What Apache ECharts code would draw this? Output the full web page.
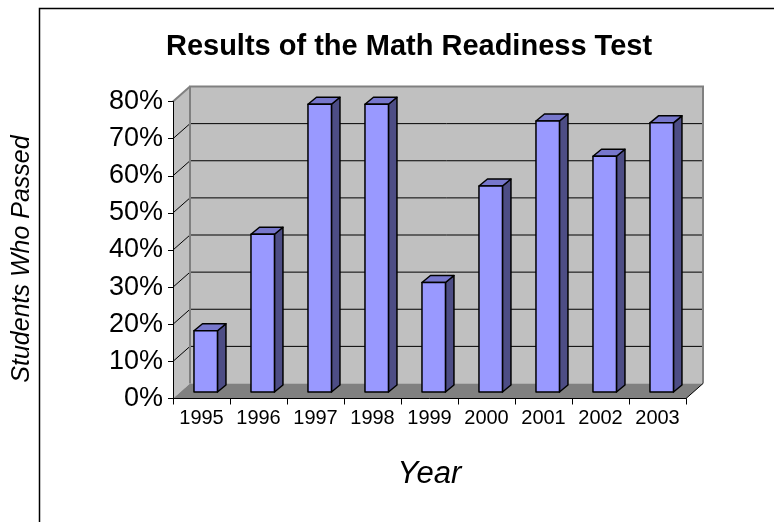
<!DOCTYPE html>
<html>
<head>
<meta charset="utf-8">
<script src="https://cdn.jsdelivr.net/npm/echarts@6/dist/echarts.min.js"></script>
<style>
html,body{margin:0;padding:0;background:#fff;}
#chart{width:774px;height:522px;}
</style>
</head>
<body>
<div id="chart"></div>
<script>
const years = ['1995','1996','1997','1998','1999','2000','2001','2002','2003'];
const passed = [0.165, 0.425, 0.775, 0.775, 0.295, 0.555, 0.73, 0.635, 0.725];
const yTicks = [0, 0.1, 0.2, 0.3, 0.4, 0.5, 0.6, 0.7, 0.8];
const titleText = 'Results of the Math Readiness Test';
const yName = 'Students Who Passed';
const xName = 'Year';

const FONT = '"Liberation Sans", Arial, sans-serif';
const yMax = yTicks[yTicks.length - 1];
const yStep = yTicks[1] - yTicks[0];
const DX = 17, DY = -15;

function renderWalls(params, api) {
  const n = years.length;
  const bw = api.size([1, 0])[0];
  const xl = api.coord([0, 0])[0] - bw / 2;
  const xr = api.coord([n - 1, 0])[0] + bw / 2;
  const yb = api.coord([0, 0])[1];
  const yt = api.coord([0, yMax])[1];
  const ch = [];
  ch.push({type:'polygon', shape:{points:[[xl,yt],[xl+DX,yt+DY],[xl+DX,yb+DY],[xl,yb]]},
    style:{fill:'#C0C0C0', stroke:null}});
  ch.push({type:'polygon', shape:{points:[[xl+DX,yt+DY],[xr+DX,yt+DY],[xr+DX,yb+DY],[xl+DX,yb+DY]]},
    style:{fill:'#C0C0C0', stroke:null}});
  ch.push({type:'polygon', shape:{points:[[xl,yb],[xr,yb],[xr+DX,yb+DY],[xl+DX,yb+DY]]},
    style:{fill:'#808080', stroke:null}});
  yTicks.forEach(function (v) {
    if (v <= 0 || v >= yMax) return;
    const y = api.coord([0, v])[1];
    ch.push({type:'line', shape:{x1:xl, y1:y, x2:xl+DX, y2:y+DY}, style:{stroke:'#000', lineWidth:1}});
    ch.push({type:'line', shape:{x1:xl+DX, y1:y+DY, x2:xr+DX, y2:y+DY}, style:{stroke:'#000', lineWidth:1}});
  });
  ch.push({type:'polyline', shape:{points:[[xl+DX,yb+DY],[xl+DX,yt+DY],[xr+DX,yt+DY],[xr+DX,yb+DY]]},
    style:{stroke:'#808080', lineWidth:2, fill:null}});
  ch.push({type:'line', shape:{x1:xl, y1:yt, x2:xl+DX, y2:yt+DY}, style:{stroke:'#808080', lineWidth:2}});
  ch.push({type:'line', shape:{x1:xr, y1:yb, x2:xr+DX, y2:yb+DY}, style:{stroke:'#000', lineWidth:1}});
  return {type:'group', children:ch};
}

function renderBar(params, api) {
  const i = api.value(0), v = api.value(1);
  const bw = api.size([1, 0])[0];
  const top = api.coord([i, v]);
  const base = api.coord([i, 0]);
  const catLeft = base[0] - bw / 2;
  const xL = catLeft + bw * 0.368;
  const xR = catLeft + bw * 0.78;
  const lift = 6.5, ddx = 8.5, ddy = -7;
  const yB = base[1] - lift, yT = top[1] - lift;
  const st = {stroke:'#000', lineWidth:1.5, lineJoin:'round'};
  return {type:'group', children:[
    {type:'polygon', shape:{points:[[xR,yT],[xR+ddx,yT+ddy],[xR+ddx,yB+ddy],[xR,yB]]},
      style:Object.assign({fill:'#4D4D85'}, st)},
    {type:'polygon', shape:{points:[[xL,yT],[xL+ddx,yT+ddy],[xR+ddx,yT+ddy],[xR,yT]]},
      style:Object.assign({fill:'#7777CC'}, st)},
    {type:'polygon', shape:{points:[[xL,yT],[xR,yT],[xR,yB],[xL,yB]]},
      style:Object.assign({fill:'#9999FF'}, st)}
  ]};
}

const chart = echarts.init(document.getElementById('chart'), null, {renderer:'canvas'});
chart.setOption({
  animation:false,
  backgroundColor:'#fff',
  textStyle:{fontFamily:FONT},
  graphic:[
    {type:'rect', shape:{x:39.5, y:8.5, width:800, height:600},
      style:{fill:null, stroke:'#000', lineWidth:1.5}, silent:true, z:-1},
    {type:'text', x:409, y:47, style:{text:titleText, fontFamily:FONT, fontSize:29, fontWeight:'bold',
      fill:'#000', textAlign:'center', textVerticalAlign:'middle'}}
  ],
  grid:{left:173, top:101.5, width:513, height:297, outerBoundsMode:'none'},
  xAxis:{
    type:'category', data:years, z:5,
    axisLine:{show:true, lineStyle:{color:'#000', width:1}},
    axisTick:{show:true, length:6, lineStyle:{color:'#000'}},
    axisLabel:{fontSize:20, color:'#000', margin:10, interval:0, fontFamily:FONT},
    splitLine:{show:false},
    name:xName, nameLocation:'middle', nameGap:60,
    nameTextStyle:{fontSize:31, fontStyle:'italic', color:'#000', fontFamily:FONT}
  },
  yAxis:{
    type:'value', min:0, max:yMax, interval:yStep, z:5,
    axisLine:{show:true, lineStyle:{color:'#000', width:1}},
    axisTick:{show:true, length:5, lineStyle:{color:'#000'}},
    axisLabel:{fontSize:27, color:'#000', margin:10, fontFamily:FONT,
      formatter:function(v){return Math.round(v*100) + '%';}},
    splitLine:{show:false},
    name:yName, nameLocation:'middle', nameGap:138, nameRotate:90,
    nameTextStyle:{fontSize:25, fontStyle:'italic', color:'#000', fontFamily:FONT, padding:[0, 18, 0, 0]}
  },
  series:[
    {type:'custom', name:'walls', renderItem:renderWalls, data:[[0,0]], z:1, silent:true, clip:false},
    {type:'custom', name:'Passed', renderItem:renderBar, z:3, clip:false,
      data:years.map(function(y,i){return [i, passed[i]];})}
  ]
});
</script>
</body>
</html>
